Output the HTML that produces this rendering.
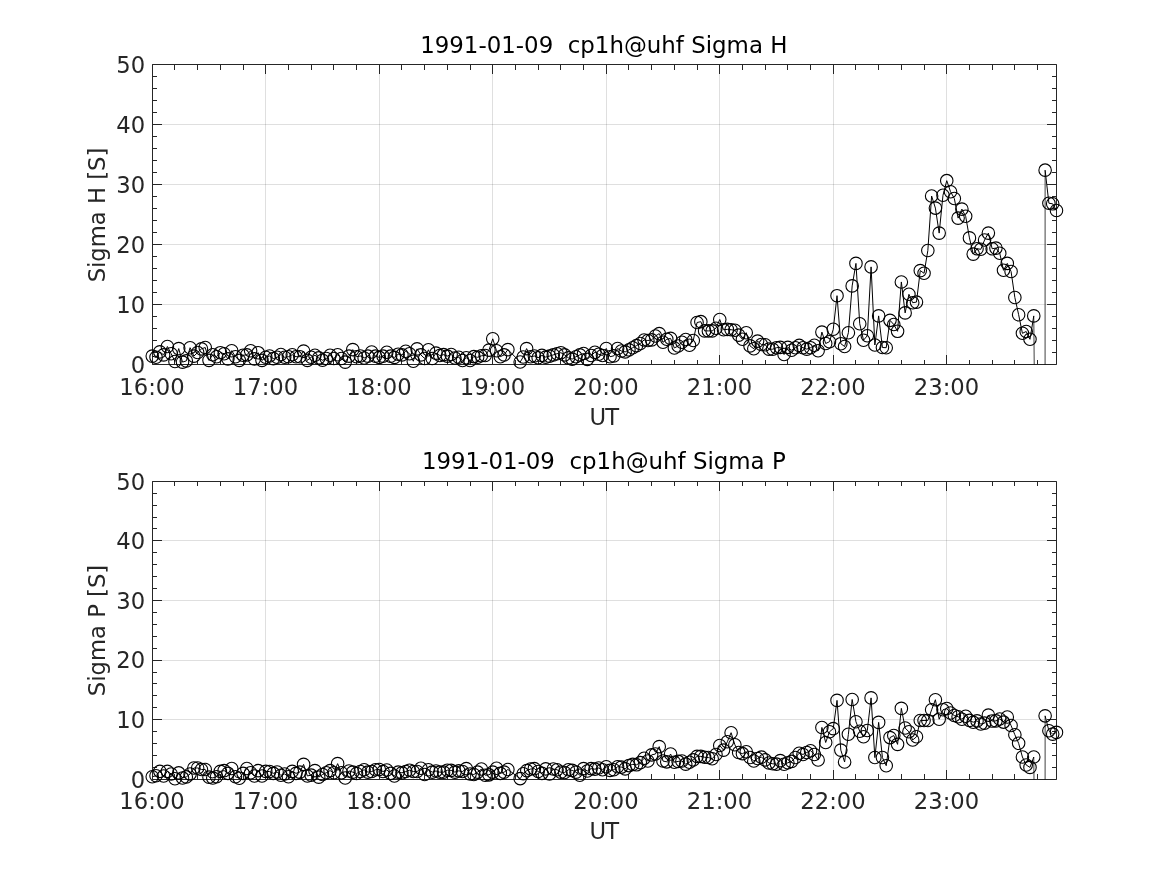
<!DOCTYPE html>
<html><head><meta charset="utf-8"><title>Sigma H / Sigma P</title>
<style>
html,body{margin:0;padding:0;background:#fff;}
svg{display:block;}
text{font-family:"DejaVu Sans","Liberation Sans",sans-serif;}
.tk{font-size:22.7px;fill:#262626;}
.lb{font-size:22.7px;fill:#262626;}
.tt{font-size:22.9px;fill:#000;white-space:pre;}
.ln{fill:none;stroke:#000;stroke-width:1.0;stroke-linejoin:miter;}
.mk circle{fill:none;stroke:#000;stroke-width:1.1;}
</style></head><body>
<svg width="1167" height="875" viewBox="0 0 1167 875">
<rect width="1167" height="875" fill="#fff"/>
<clipPath id="c0"><rect x="152.5" y="64.5" width="904.0" height="300.0"/></clipPath>
<path d="M265.5 64.5V364.5M379.5 64.5V364.5M492.5 64.5V364.5M606.5 64.5V364.5M719.5 64.5V364.5M833.5 64.5V364.5M946.5 64.5V364.5" stroke="#262626" stroke-opacity="0.15" stroke-width="1" fill="none"/>
<path d="M152.5 304.5H1056.5M152.5 244.5H1056.5M152.5 184.5H1056.5M152.5 124.5H1056.5" stroke="#262626" stroke-opacity="0.15" stroke-width="1" fill="none"/>
<path d="M152.5 64.5H1056.5V364.5H152.5ZM152.5 364.5v-9.5M152.5 64.5v9.5M174.5 364.5v-4.5M174.5 64.5v5.5M197.5 364.5v-4.5M197.5 64.5v5.5M220.5 364.5v-4.5M220.5 64.5v5.5M243.5 364.5v-4.5M243.5 64.5v5.5M265.5 364.5v-9.5M265.5 64.5v9.5M288.5 364.5v-4.5M288.5 64.5v5.5M311.5 364.5v-4.5M311.5 64.5v5.5M333.5 364.5v-4.5M333.5 64.5v5.5M356.5 364.5v-4.5M356.5 64.5v5.5M379.5 364.5v-9.5M379.5 64.5v9.5M401.5 364.5v-4.5M401.5 64.5v5.5M424.5 364.5v-4.5M424.5 64.5v5.5M447.5 364.5v-4.5M447.5 64.5v5.5M470.5 364.5v-4.5M470.5 64.5v5.5M492.5 364.5v-9.5M492.5 64.5v9.5M515.5 364.5v-4.5M515.5 64.5v5.5M538.5 364.5v-4.5M538.5 64.5v5.5M560.5 364.5v-4.5M560.5 64.5v5.5M583.5 364.5v-4.5M583.5 64.5v5.5M606.5 364.5v-9.5M606.5 64.5v9.5M628.5 364.5v-4.5M628.5 64.5v5.5M651.5 364.5v-4.5M651.5 64.5v5.5M674.5 364.5v-4.5M674.5 64.5v5.5M697.5 364.5v-4.5M697.5 64.5v5.5M719.5 364.5v-9.5M719.5 64.5v9.5M742.5 364.5v-4.5M742.5 64.5v5.5M765.5 364.5v-4.5M765.5 64.5v5.5M787.5 364.5v-4.5M787.5 64.5v5.5M810.5 364.5v-4.5M810.5 64.5v5.5M833.5 364.5v-9.5M833.5 64.5v9.5M855.5 364.5v-4.5M855.5 64.5v5.5M878.5 364.5v-4.5M878.5 64.5v5.5M901.5 364.5v-4.5M901.5 64.5v5.5M924.5 364.5v-4.5M924.5 64.5v5.5M946.5 364.5v-9.5M946.5 64.5v9.5M969.5 364.5v-4.5M969.5 64.5v5.5M992.5 364.5v-4.5M992.5 64.5v5.5M1014.5 364.5v-4.5M1014.5 64.5v5.5M1037.5 364.5v-4.5M1037.5 64.5v5.5M152.5 364.5h9.5M1056.5 364.5h-9.5M152.5 352.5h4.5M1056.5 352.5h-4.5M152.5 340.5h4.5M1056.5 340.5h-4.5M152.5 328.5h4.5M1056.5 328.5h-4.5M152.5 316.5h4.5M1056.5 316.5h-4.5M152.5 304.5h9.5M1056.5 304.5h-9.5M152.5 292.5h4.5M1056.5 292.5h-4.5M152.5 280.5h4.5M1056.5 280.5h-4.5M152.5 268.5h4.5M1056.5 268.5h-4.5M152.5 256.5h4.5M1056.5 256.5h-4.5M152.5 244.5h9.5M1056.5 244.5h-9.5M152.5 232.5h4.5M1056.5 232.5h-4.5M152.5 220.5h4.5M1056.5 220.5h-4.5M152.5 208.5h4.5M1056.5 208.5h-4.5M152.5 196.5h4.5M1056.5 196.5h-4.5M152.5 184.5h9.5M1056.5 184.5h-9.5M152.5 172.5h4.5M1056.5 172.5h-4.5M152.5 160.5h4.5M1056.5 160.5h-4.5M152.5 148.5h4.5M1056.5 148.5h-4.5M152.5 136.5h4.5M1056.5 136.5h-4.5M152.5 124.5h9.5M1056.5 124.5h-9.5M152.5 112.5h4.5M1056.5 112.5h-4.5M152.5 100.5h4.5M1056.5 100.5h-4.5M152.5 88.5h4.5M1056.5 88.5h-4.5M152.5 76.5h4.5M1056.5 76.5h-4.5M152.5 64.5h9.5M1056.5 64.5h-9.5" stroke="#262626" stroke-width="1" fill="none"/>
<g clip-path="url(#c0)"><path class="ln" d="M152.25 356.10L156.03 357.30L159.82 351.90L163.60 354.90L167.38 346.50L171.17 353.70L174.95 361.50L178.73 348.60L182.52 362.10L186.30 360.90L190.08 347.70L193.87 356.10L197.65 352.50L201.43 348.90L205.22 347.52L209.00 360.36L212.78 354.72L216.57 356.70L220.35 352.68L224.13 353.70L227.92 358.86L231.70 350.70L235.48 356.70L239.27 360.36L243.05 355.20L246.83 354.90L250.62 350.70L254.40 358.86L258.18 352.68L261.97 360.36L265.75 357.30L269.53 355.98L273.32 358.62L277.10 357.30L280.88 354.48L284.67 357.30L288.45 356.70L292.23 354.72L296.02 356.70L299.80 356.70L303.58 351.12L307.37 360.36L311.15 357.30L314.93 355.26L318.72 357.90L322.50 360.30L326.28 358.50L330.07 355.26L333.85 358.50L337.63 354.72L341.42 358.50L345.20 362.10L348.98 356.10L352.77 349.62L356.55 356.70L360.33 355.98L364.12 358.02L367.90 356.10L371.68 351.96L375.47 356.10L379.25 357.42L383.03 356.10L386.82 352.32L390.60 356.10L394.38 357.42L398.17 354.18L401.95 354.90L405.73 351.30L409.52 353.70L413.30 361.26L417.08 348.90L420.87 354.90L424.65 358.50L428.43 349.80L432.22 358.50L436.00 353.10L439.78 355.50L443.57 354.66L447.35 356.10L451.13 354.48L454.92 358.02L458.70 357.30L462.48 360.48L466.27 357.72L470.05 360.48L473.83 356.58L477.62 357.30L481.40 355.80L485.18 355.50L488.97 350.10L492.75 338.82L496.53 350.70L500.32 356.70L504.10 354.90L507.88 349.62L520.18 362.04L523.21 356.94L526.61 348.60L530.58 356.70L534.37 355.98L538.15 357.72L541.93 355.38L545.72 357.12L549.50 356.10L553.28 354.90L557.07 353.70L560.85 352.68L564.63 354.90L568.42 357.90L572.20 359.10L575.98 356.70L579.77 354.90L583.55 353.46L587.33 359.34L591.12 355.50L594.90 352.32L598.68 354.30L602.47 355.50L606.25 348.48L610.03 356.70L613.82 355.86L617.60 348.48L621.38 351.00L625.17 351.90L628.95 349.86L632.73 347.70L636.52 345.60L640.30 343.50L644.08 339.96L647.87 340.50L651.65 339.90L655.43 336.00L659.22 333.60L663.00 342.30L666.78 339.30L670.57 338.40L674.35 347.94L678.13 346.02L681.92 342.30L685.70 339.54L689.48 345.30L693.27 340.50L697.05 322.50L700.83 321.66L704.62 330.90L708.40 330.90L712.18 330.90L715.97 328.20L719.75 319.50L723.53 329.70L727.32 329.40L731.10 329.70L734.88 330.30L738.67 335.10L742.45 339.30L746.23 332.70L750.02 345.90L753.80 348.72L757.58 341.10L761.37 344.52L765.15 344.70L768.93 349.14L772.72 349.20L776.50 347.70L780.28 347.34L784.07 354.54L787.85 347.34L791.63 350.28L795.42 347.70L799.20 345.36L802.98 347.70L806.77 349.14L810.55 347.70L814.33 345.30L818.12 350.70L821.90 332.10L825.68 343.50L829.47 341.70L833.25 329.28L837.03 295.68L840.82 343.68L844.60 346.50L848.38 332.70L852.17 285.90L855.95 263.40L859.73 323.70L863.52 340.20L867.30 335.70L871.08 266.88L874.87 345.00L878.65 315.90L882.43 347.52L886.22 347.70L890.00 320.34L893.78 324.48L897.57 331.32L901.35 281.94L905.13 312.90L908.92 294.30L912.70 302.70L916.48 302.10L920.27 270.60L924.05 273.30L927.83 250.50L931.62 196.02L935.40 208.08L939.18 233.10L942.97 195.30L946.75 180.66L950.53 191.70L954.32 198.48L958.10 218.10L961.88 209.10L965.67 216.30L969.45 237.90L973.23 254.10L977.02 248.70L980.80 249.30L984.58 240.00L988.37 233.10L992.15 248.70L995.93 248.10L999.72 253.20L1003.50 270.30L1007.28 263.40L1011.07 271.50L1014.85 297.48L1018.63 314.70L1022.42 333.30L1026.20 331.50L1029.98 339.30L1033.77 315.90"/><path class="ln" stroke-opacity="0.75" d="M1033.77 315.90L1037.55 724.50L1041.33 18364.50L1045.12 170.16"/><path class="ln" d="M1045.12 170.16L1048.90 203.22L1052.68 203.82L1056.47 210.54"/></g>
<g class="mk"><circle cx="152.25" cy="356.10" r="6.25"/><circle cx="156.03" cy="357.30" r="6.25"/><circle cx="159.82" cy="351.90" r="6.25"/><circle cx="163.60" cy="354.90" r="6.25"/><circle cx="167.38" cy="346.50" r="6.25"/><circle cx="171.17" cy="353.70" r="6.25"/><circle cx="174.95" cy="361.50" r="6.25"/><circle cx="178.73" cy="348.60" r="6.25"/><circle cx="182.52" cy="362.10" r="6.25"/><circle cx="186.30" cy="360.90" r="6.25"/><circle cx="190.08" cy="347.70" r="6.25"/><circle cx="193.87" cy="356.10" r="6.25"/><circle cx="197.65" cy="352.50" r="6.25"/><circle cx="201.43" cy="348.90" r="6.25"/><circle cx="205.22" cy="347.52" r="6.25"/><circle cx="209.00" cy="360.36" r="6.25"/><circle cx="212.78" cy="354.72" r="6.25"/><circle cx="216.57" cy="356.70" r="6.25"/><circle cx="220.35" cy="352.68" r="6.25"/><circle cx="224.13" cy="353.70" r="6.25"/><circle cx="227.92" cy="358.86" r="6.25"/><circle cx="231.70" cy="350.70" r="6.25"/><circle cx="235.48" cy="356.70" r="6.25"/><circle cx="239.27" cy="360.36" r="6.25"/><circle cx="243.05" cy="355.20" r="6.25"/><circle cx="246.83" cy="354.90" r="6.25"/><circle cx="250.62" cy="350.70" r="6.25"/><circle cx="254.40" cy="358.86" r="6.25"/><circle cx="258.18" cy="352.68" r="6.25"/><circle cx="261.97" cy="360.36" r="6.25"/><circle cx="265.75" cy="357.30" r="6.25"/><circle cx="269.53" cy="355.98" r="6.25"/><circle cx="273.32" cy="358.62" r="6.25"/><circle cx="277.10" cy="357.30" r="6.25"/><circle cx="280.88" cy="354.48" r="6.25"/><circle cx="284.67" cy="357.30" r="6.25"/><circle cx="288.45" cy="356.70" r="6.25"/><circle cx="292.23" cy="354.72" r="6.25"/><circle cx="296.02" cy="356.70" r="6.25"/><circle cx="299.80" cy="356.70" r="6.25"/><circle cx="303.58" cy="351.12" r="6.25"/><circle cx="307.37" cy="360.36" r="6.25"/><circle cx="311.15" cy="357.30" r="6.25"/><circle cx="314.93" cy="355.26" r="6.25"/><circle cx="318.72" cy="357.90" r="6.25"/><circle cx="322.50" cy="360.30" r="6.25"/><circle cx="326.28" cy="358.50" r="6.25"/><circle cx="330.07" cy="355.26" r="6.25"/><circle cx="333.85" cy="358.50" r="6.25"/><circle cx="337.63" cy="354.72" r="6.25"/><circle cx="341.42" cy="358.50" r="6.25"/><circle cx="345.20" cy="362.10" r="6.25"/><circle cx="348.98" cy="356.10" r="6.25"/><circle cx="352.77" cy="349.62" r="6.25"/><circle cx="356.55" cy="356.70" r="6.25"/><circle cx="360.33" cy="355.98" r="6.25"/><circle cx="364.12" cy="358.02" r="6.25"/><circle cx="367.90" cy="356.10" r="6.25"/><circle cx="371.68" cy="351.96" r="6.25"/><circle cx="375.47" cy="356.10" r="6.25"/><circle cx="379.25" cy="357.42" r="6.25"/><circle cx="383.03" cy="356.10" r="6.25"/><circle cx="386.82" cy="352.32" r="6.25"/><circle cx="390.60" cy="356.10" r="6.25"/><circle cx="394.38" cy="357.42" r="6.25"/><circle cx="398.17" cy="354.18" r="6.25"/><circle cx="401.95" cy="354.90" r="6.25"/><circle cx="405.73" cy="351.30" r="6.25"/><circle cx="409.52" cy="353.70" r="6.25"/><circle cx="413.30" cy="361.26" r="6.25"/><circle cx="417.08" cy="348.90" r="6.25"/><circle cx="420.87" cy="354.90" r="6.25"/><circle cx="424.65" cy="358.50" r="6.25"/><circle cx="428.43" cy="349.80" r="6.25"/><circle cx="432.22" cy="358.50" r="6.25"/><circle cx="436.00" cy="353.10" r="6.25"/><circle cx="439.78" cy="355.50" r="6.25"/><circle cx="443.57" cy="354.66" r="6.25"/><circle cx="447.35" cy="356.10" r="6.25"/><circle cx="451.13" cy="354.48" r="6.25"/><circle cx="454.92" cy="358.02" r="6.25"/><circle cx="458.70" cy="357.30" r="6.25"/><circle cx="462.48" cy="360.48" r="6.25"/><circle cx="466.27" cy="357.72" r="6.25"/><circle cx="470.05" cy="360.48" r="6.25"/><circle cx="473.83" cy="356.58" r="6.25"/><circle cx="477.62" cy="357.30" r="6.25"/><circle cx="481.40" cy="355.80" r="6.25"/><circle cx="485.18" cy="355.50" r="6.25"/><circle cx="488.97" cy="350.10" r="6.25"/><circle cx="492.75" cy="338.82" r="6.25"/><circle cx="496.53" cy="350.70" r="6.25"/><circle cx="500.32" cy="356.70" r="6.25"/><circle cx="504.10" cy="354.90" r="6.25"/><circle cx="507.88" cy="349.62" r="6.25"/><circle cx="520.18" cy="362.04" r="6.25"/><circle cx="523.21" cy="356.94" r="6.25"/><circle cx="526.61" cy="348.60" r="6.25"/><circle cx="530.58" cy="356.70" r="6.25"/><circle cx="534.37" cy="355.98" r="6.25"/><circle cx="538.15" cy="357.72" r="6.25"/><circle cx="541.93" cy="355.38" r="6.25"/><circle cx="545.72" cy="357.12" r="6.25"/><circle cx="549.50" cy="356.10" r="6.25"/><circle cx="553.28" cy="354.90" r="6.25"/><circle cx="557.07" cy="353.70" r="6.25"/><circle cx="560.85" cy="352.68" r="6.25"/><circle cx="564.63" cy="354.90" r="6.25"/><circle cx="568.42" cy="357.90" r="6.25"/><circle cx="572.20" cy="359.10" r="6.25"/><circle cx="575.98" cy="356.70" r="6.25"/><circle cx="579.77" cy="354.90" r="6.25"/><circle cx="583.55" cy="353.46" r="6.25"/><circle cx="587.33" cy="359.34" r="6.25"/><circle cx="591.12" cy="355.50" r="6.25"/><circle cx="594.90" cy="352.32" r="6.25"/><circle cx="598.68" cy="354.30" r="6.25"/><circle cx="602.47" cy="355.50" r="6.25"/><circle cx="606.25" cy="348.48" r="6.25"/><circle cx="610.03" cy="356.70" r="6.25"/><circle cx="613.82" cy="355.86" r="6.25"/><circle cx="617.60" cy="348.48" r="6.25"/><circle cx="621.38" cy="351.00" r="6.25"/><circle cx="625.17" cy="351.90" r="6.25"/><circle cx="628.95" cy="349.86" r="6.25"/><circle cx="632.73" cy="347.70" r="6.25"/><circle cx="636.52" cy="345.60" r="6.25"/><circle cx="640.30" cy="343.50" r="6.25"/><circle cx="644.08" cy="339.96" r="6.25"/><circle cx="647.87" cy="340.50" r="6.25"/><circle cx="651.65" cy="339.90" r="6.25"/><circle cx="655.43" cy="336.00" r="6.25"/><circle cx="659.22" cy="333.60" r="6.25"/><circle cx="663.00" cy="342.30" r="6.25"/><circle cx="666.78" cy="339.30" r="6.25"/><circle cx="670.57" cy="338.40" r="6.25"/><circle cx="674.35" cy="347.94" r="6.25"/><circle cx="678.13" cy="346.02" r="6.25"/><circle cx="681.92" cy="342.30" r="6.25"/><circle cx="685.70" cy="339.54" r="6.25"/><circle cx="689.48" cy="345.30" r="6.25"/><circle cx="693.27" cy="340.50" r="6.25"/><circle cx="697.05" cy="322.50" r="6.25"/><circle cx="700.83" cy="321.66" r="6.25"/><circle cx="704.62" cy="330.90" r="6.25"/><circle cx="708.40" cy="330.90" r="6.25"/><circle cx="712.18" cy="330.90" r="6.25"/><circle cx="715.97" cy="328.20" r="6.25"/><circle cx="719.75" cy="319.50" r="6.25"/><circle cx="723.53" cy="329.70" r="6.25"/><circle cx="727.32" cy="329.40" r="6.25"/><circle cx="731.10" cy="329.70" r="6.25"/><circle cx="734.88" cy="330.30" r="6.25"/><circle cx="738.67" cy="335.10" r="6.25"/><circle cx="742.45" cy="339.30" r="6.25"/><circle cx="746.23" cy="332.70" r="6.25"/><circle cx="750.02" cy="345.90" r="6.25"/><circle cx="753.80" cy="348.72" r="6.25"/><circle cx="757.58" cy="341.10" r="6.25"/><circle cx="761.37" cy="344.52" r="6.25"/><circle cx="765.15" cy="344.70" r="6.25"/><circle cx="768.93" cy="349.14" r="6.25"/><circle cx="772.72" cy="349.20" r="6.25"/><circle cx="776.50" cy="347.70" r="6.25"/><circle cx="780.28" cy="347.34" r="6.25"/><circle cx="784.07" cy="354.54" r="6.25"/><circle cx="787.85" cy="347.34" r="6.25"/><circle cx="791.63" cy="350.28" r="6.25"/><circle cx="795.42" cy="347.70" r="6.25"/><circle cx="799.20" cy="345.36" r="6.25"/><circle cx="802.98" cy="347.70" r="6.25"/><circle cx="806.77" cy="349.14" r="6.25"/><circle cx="810.55" cy="347.70" r="6.25"/><circle cx="814.33" cy="345.30" r="6.25"/><circle cx="818.12" cy="350.70" r="6.25"/><circle cx="821.90" cy="332.10" r="6.25"/><circle cx="825.68" cy="343.50" r="6.25"/><circle cx="829.47" cy="341.70" r="6.25"/><circle cx="833.25" cy="329.28" r="6.25"/><circle cx="837.03" cy="295.68" r="6.25"/><circle cx="840.82" cy="343.68" r="6.25"/><circle cx="844.60" cy="346.50" r="6.25"/><circle cx="848.38" cy="332.70" r="6.25"/><circle cx="852.17" cy="285.90" r="6.25"/><circle cx="855.95" cy="263.40" r="6.25"/><circle cx="859.73" cy="323.70" r="6.25"/><circle cx="863.52" cy="340.20" r="6.25"/><circle cx="867.30" cy="335.70" r="6.25"/><circle cx="871.08" cy="266.88" r="6.25"/><circle cx="874.87" cy="345.00" r="6.25"/><circle cx="878.65" cy="315.90" r="6.25"/><circle cx="882.43" cy="347.52" r="6.25"/><circle cx="886.22" cy="347.70" r="6.25"/><circle cx="890.00" cy="320.34" r="6.25"/><circle cx="893.78" cy="324.48" r="6.25"/><circle cx="897.57" cy="331.32" r="6.25"/><circle cx="901.35" cy="281.94" r="6.25"/><circle cx="905.13" cy="312.90" r="6.25"/><circle cx="908.92" cy="294.30" r="6.25"/><circle cx="912.70" cy="302.70" r="6.25"/><circle cx="916.48" cy="302.10" r="6.25"/><circle cx="920.27" cy="270.60" r="6.25"/><circle cx="924.05" cy="273.30" r="6.25"/><circle cx="927.83" cy="250.50" r="6.25"/><circle cx="931.62" cy="196.02" r="6.25"/><circle cx="935.40" cy="208.08" r="6.25"/><circle cx="939.18" cy="233.10" r="6.25"/><circle cx="942.97" cy="195.30" r="6.25"/><circle cx="946.75" cy="180.66" r="6.25"/><circle cx="950.53" cy="191.70" r="6.25"/><circle cx="954.32" cy="198.48" r="6.25"/><circle cx="958.10" cy="218.10" r="6.25"/><circle cx="961.88" cy="209.10" r="6.25"/><circle cx="965.67" cy="216.30" r="6.25"/><circle cx="969.45" cy="237.90" r="6.25"/><circle cx="973.23" cy="254.10" r="6.25"/><circle cx="977.02" cy="248.70" r="6.25"/><circle cx="980.80" cy="249.30" r="6.25"/><circle cx="984.58" cy="240.00" r="6.25"/><circle cx="988.37" cy="233.10" r="6.25"/><circle cx="992.15" cy="248.70" r="6.25"/><circle cx="995.93" cy="248.10" r="6.25"/><circle cx="999.72" cy="253.20" r="6.25"/><circle cx="1003.50" cy="270.30" r="6.25"/><circle cx="1007.28" cy="263.40" r="6.25"/><circle cx="1011.07" cy="271.50" r="6.25"/><circle cx="1014.85" cy="297.48" r="6.25"/><circle cx="1018.63" cy="314.70" r="6.25"/><circle cx="1022.42" cy="333.30" r="6.25"/><circle cx="1026.20" cy="331.50" r="6.25"/><circle cx="1029.98" cy="339.30" r="6.25"/><circle cx="1033.77" cy="315.90" r="6.25"/><circle cx="1045.12" cy="170.16" r="6.25"/><circle cx="1048.90" cy="203.22" r="6.25"/><circle cx="1052.68" cy="203.82" r="6.25"/><circle cx="1056.47" cy="210.54" r="6.25"/></g>
<text class="tk" x="152.0" y="395.0" text-anchor="middle">16:00</text>
<text class="tk" x="265.5" y="395.0" text-anchor="middle">17:00</text>
<text class="tk" x="379.0" y="395.0" text-anchor="middle">18:00</text>
<text class="tk" x="492.5" y="395.0" text-anchor="middle">19:00</text>
<text class="tk" x="606.0" y="395.0" text-anchor="middle">20:00</text>
<text class="tk" x="719.5" y="395.0" text-anchor="middle">21:00</text>
<text class="tk" x="833.0" y="395.0" text-anchor="middle">22:00</text>
<text class="tk" x="946.5" y="395.0" text-anchor="middle">23:00</text>
<text class="tk" x="145.2" y="372.5" text-anchor="end">0</text>
<text class="tk" x="145.2" y="312.5" text-anchor="end">10</text>
<text class="tk" x="145.2" y="252.5" text-anchor="end">20</text>
<text class="tk" x="145.2" y="192.5" text-anchor="end">30</text>
<text class="tk" x="145.2" y="132.5" text-anchor="end">40</text>
<text class="tk" x="145.2" y="72.5" text-anchor="end">50</text>
<text class="lb" x="604.0" y="424.5" text-anchor="middle" letter-spacing="-0.8">UT</text>
<text class="lb" transform="translate(105 215.0) rotate(-90)" text-anchor="middle">Sigma H [S]</text>
<text class="tt" x="603.8" y="52.5" text-anchor="middle" xml:space="preserve">1991-01-09  cp1h@uhf Sigma H</text>
<clipPath id="c1"><rect x="152.5" y="481.5" width="904.0" height="298.0"/></clipPath>
<path d="M265.5 481.5V779.5M379.5 481.5V779.5M492.5 481.5V779.5M606.5 481.5V779.5M719.5 481.5V779.5M833.5 481.5V779.5M946.5 481.5V779.5" stroke="#262626" stroke-opacity="0.15" stroke-width="1" fill="none"/>
<path d="M152.5 719.5H1056.5M152.5 660.5H1056.5M152.5 600.5H1056.5M152.5 540.5H1056.5" stroke="#262626" stroke-opacity="0.15" stroke-width="1" fill="none"/>
<path d="M152.5 481.5H1056.5V779.5H152.5ZM152.5 779.5v-9.5M152.5 481.5v9.5M174.5 779.5v-5.5M174.5 481.5v4.5M197.5 779.5v-5.5M197.5 481.5v4.5M220.5 779.5v-5.5M220.5 481.5v4.5M243.5 779.5v-5.5M243.5 481.5v4.5M265.5 779.5v-9.5M265.5 481.5v9.5M288.5 779.5v-5.5M288.5 481.5v4.5M311.5 779.5v-5.5M311.5 481.5v4.5M333.5 779.5v-5.5M333.5 481.5v4.5M356.5 779.5v-5.5M356.5 481.5v4.5M379.5 779.5v-9.5M379.5 481.5v9.5M401.5 779.5v-5.5M401.5 481.5v4.5M424.5 779.5v-5.5M424.5 481.5v4.5M447.5 779.5v-5.5M447.5 481.5v4.5M470.5 779.5v-5.5M470.5 481.5v4.5M492.5 779.5v-9.5M492.5 481.5v9.5M515.5 779.5v-5.5M515.5 481.5v4.5M538.5 779.5v-5.5M538.5 481.5v4.5M560.5 779.5v-5.5M560.5 481.5v4.5M583.5 779.5v-5.5M583.5 481.5v4.5M606.5 779.5v-9.5M606.5 481.5v9.5M628.5 779.5v-5.5M628.5 481.5v4.5M651.5 779.5v-5.5M651.5 481.5v4.5M674.5 779.5v-5.5M674.5 481.5v4.5M697.5 779.5v-5.5M697.5 481.5v4.5M719.5 779.5v-9.5M719.5 481.5v9.5M742.5 779.5v-5.5M742.5 481.5v4.5M765.5 779.5v-5.5M765.5 481.5v4.5M787.5 779.5v-5.5M787.5 481.5v4.5M810.5 779.5v-5.5M810.5 481.5v4.5M833.5 779.5v-9.5M833.5 481.5v9.5M855.5 779.5v-5.5M855.5 481.5v4.5M878.5 779.5v-5.5M878.5 481.5v4.5M901.5 779.5v-5.5M901.5 481.5v4.5M924.5 779.5v-5.5M924.5 481.5v4.5M946.5 779.5v-9.5M946.5 481.5v9.5M969.5 779.5v-5.5M969.5 481.5v4.5M992.5 779.5v-5.5M992.5 481.5v4.5M1014.5 779.5v-5.5M1014.5 481.5v4.5M1037.5 779.5v-5.5M1037.5 481.5v4.5M152.5 779.5h9.5M1056.5 779.5h-9.5M152.5 767.5h4.5M1056.5 767.5h-4.5M152.5 755.5h4.5M1056.5 755.5h-4.5M152.5 743.5h4.5M1056.5 743.5h-4.5M152.5 731.5h4.5M1056.5 731.5h-4.5M152.5 719.5h9.5M1056.5 719.5h-9.5M152.5 707.5h4.5M1056.5 707.5h-4.5M152.5 695.5h4.5M1056.5 695.5h-4.5M152.5 683.5h4.5M1056.5 683.5h-4.5M152.5 672.5h4.5M1056.5 672.5h-4.5M152.5 660.5h9.5M1056.5 660.5h-9.5M152.5 648.5h4.5M1056.5 648.5h-4.5M152.5 636.5h4.5M1056.5 636.5h-4.5M152.5 624.5h4.5M1056.5 624.5h-4.5M152.5 612.5h4.5M1056.5 612.5h-4.5M152.5 600.5h9.5M1056.5 600.5h-9.5M152.5 588.5h4.5M1056.5 588.5h-4.5M152.5 576.5h4.5M1056.5 576.5h-4.5M152.5 564.5h4.5M1056.5 564.5h-4.5M152.5 552.5h4.5M1056.5 552.5h-4.5M152.5 540.5h9.5M1056.5 540.5h-9.5M152.5 528.5h4.5M1056.5 528.5h-4.5M152.5 517.5h4.5M1056.5 517.5h-4.5M152.5 505.5h4.5M1056.5 505.5h-4.5M152.5 493.5h4.5M1056.5 493.5h-4.5M152.5 481.5h9.5M1056.5 481.5h-9.5" stroke="#262626" stroke-width="1" fill="none"/>
<g clip-path="url(#c1)"><path class="ln" d="M152.25 776.74L156.03 775.72L159.82 771.37L163.60 775.96L167.38 771.37L171.17 773.94L174.95 778.70L178.73 772.92L182.52 777.93L186.30 776.92L190.08 773.94L193.87 767.98L197.65 767.98L201.43 769.47L205.22 769.47L209.00 777.15L212.78 777.93L216.57 776.74L220.35 771.37L224.13 770.60L227.92 773.34L231.70 768.57L235.48 776.74L239.27 778.29L243.05 773.34L246.83 768.57L250.62 772.74L254.40 775.96L258.18 770.60L261.97 775.96L265.75 771.37L269.53 771.55L273.32 773.34L277.10 772.03L280.88 775.25L284.67 773.94L288.45 776.74L292.23 771.37L296.02 773.34L299.80 772.15L303.58 764.40L307.37 775.96L311.15 775.13L314.93 770.60L318.72 777.15L322.50 774.53L326.28 772.74L330.07 770.60L333.85 772.74L337.63 763.63L341.42 772.74L345.20 777.93L348.98 770.96L352.77 772.15L356.55 773.46L360.33 771.55L364.12 769.76L367.90 772.15L371.68 771.55L375.47 769.76L379.25 769.47L383.03 771.55L386.82 769.94L390.60 773.34L394.38 775.96L398.17 772.15L401.95 772.86L405.73 771.55L409.52 770.18L413.30 771.55L417.08 771.55L420.87 768.27L424.65 774.53L428.43 769.76L432.22 772.15L436.00 770.96L439.78 772.15L443.57 772.15L447.35 770.18L451.13 770.36L454.92 772.15L458.70 770.84L462.48 771.55L466.27 768.63L470.05 773.94L473.83 774.53L477.62 772.15L481.40 769.05L485.18 775.19L488.97 774.83L492.75 772.15L496.53 768.27L500.32 773.34L504.10 772.15L507.88 769.47L520.18 778.58L523.21 773.70L526.80 770.60L530.58 769.05L534.37 768.63L538.15 771.55L541.93 773.34L545.72 768.87L549.50 774.06L553.28 769.05L557.07 769.76L560.85 772.15L564.63 772.45L568.42 769.76L572.20 770.36L575.98 772.15L579.77 775.19L583.55 768.63L587.33 770.96L591.12 768.63L594.90 769.17L598.68 767.98L602.47 769.76L606.25 766.78L610.03 770.36L613.82 769.76L617.60 766.78L621.38 767.08L625.17 768.87L628.95 765.59L632.73 764.40L636.52 764.82L640.30 762.61L644.08 758.32L647.87 761.06L651.65 754.86L655.43 754.03L659.22 746.64L663.00 761.06L666.78 761.84L670.57 754.03L674.35 762.19L678.13 761.42L681.92 761.06L685.70 764.16L689.48 762.19L693.27 759.87L697.05 756.35L700.83 756.35L704.62 757.25L708.40 757.55L712.18 758.74L715.97 754.45L719.75 745.51L723.53 750.10L727.32 741.75L731.10 732.69L734.88 744.73L738.67 752.48L742.45 753.67L746.23 751.71L750.02 757.55L753.80 761.06L757.58 758.44L761.37 757.13L765.15 759.87L768.93 762.97L772.72 763.80L776.50 764.16L780.28 760.65L784.07 764.28L787.85 762.79L791.63 761.42L795.42 757.55L799.20 753.20L802.98 754.45L806.77 752.48L810.55 750.69L814.33 754.45L818.12 760.05L821.90 727.45L825.68 742.47L829.47 731.80L833.25 728.64L837.03 700.39L840.82 750.10L844.60 762.02L848.38 734.30L852.17 699.44L855.95 721.73L859.73 731.20L863.52 736.81L867.30 730.55L871.08 697.89L874.87 757.55L878.65 722.38L882.43 757.55L886.22 765.71L890.00 737.58L893.78 735.55L897.57 744.37L901.35 708.38L905.13 728.04L908.92 731.80L912.70 739.96L916.48 736.81L920.27 720.47L924.05 720.47L927.83 720.47L931.62 709.81L935.40 699.73L939.18 719.22L942.97 709.81L946.75 708.55L950.53 712.97L954.32 715.53L958.10 716.72L961.88 719.22L965.67 716.30L969.45 720.42L973.23 722.20L977.02 720.89L980.80 724.05L984.58 723.16L988.37 715.11L992.15 721.07L995.93 720.89L999.72 718.98L1003.50 722.08L1007.28 716.96L1011.07 725.54L1014.85 734.72L1018.63 743.30L1022.42 757.01L1026.20 765.00L1029.98 767.38L1033.77 757.01"/><path class="ln" stroke-opacity="0.75" d="M1033.77 757.01L1037.55 1136.90L1041.33 18659.30L1045.12 715.83"/><path class="ln" d="M1045.12 715.83L1048.90 730.73L1052.68 734.12L1056.47 732.39"/></g>
<g class="mk"><circle cx="152.25" cy="776.74" r="6.25"/><circle cx="156.03" cy="775.72" r="6.25"/><circle cx="159.82" cy="771.37" r="6.25"/><circle cx="163.60" cy="775.96" r="6.25"/><circle cx="167.38" cy="771.37" r="6.25"/><circle cx="171.17" cy="773.94" r="6.25"/><circle cx="174.95" cy="778.70" r="6.25"/><circle cx="178.73" cy="772.92" r="6.25"/><circle cx="182.52" cy="777.93" r="6.25"/><circle cx="186.30" cy="776.92" r="6.25"/><circle cx="190.08" cy="773.94" r="6.25"/><circle cx="193.87" cy="767.98" r="6.25"/><circle cx="197.65" cy="767.98" r="6.25"/><circle cx="201.43" cy="769.47" r="6.25"/><circle cx="205.22" cy="769.47" r="6.25"/><circle cx="209.00" cy="777.15" r="6.25"/><circle cx="212.78" cy="777.93" r="6.25"/><circle cx="216.57" cy="776.74" r="6.25"/><circle cx="220.35" cy="771.37" r="6.25"/><circle cx="224.13" cy="770.60" r="6.25"/><circle cx="227.92" cy="773.34" r="6.25"/><circle cx="231.70" cy="768.57" r="6.25"/><circle cx="235.48" cy="776.74" r="6.25"/><circle cx="239.27" cy="778.29" r="6.25"/><circle cx="243.05" cy="773.34" r="6.25"/><circle cx="246.83" cy="768.57" r="6.25"/><circle cx="250.62" cy="772.74" r="6.25"/><circle cx="254.40" cy="775.96" r="6.25"/><circle cx="258.18" cy="770.60" r="6.25"/><circle cx="261.97" cy="775.96" r="6.25"/><circle cx="265.75" cy="771.37" r="6.25"/><circle cx="269.53" cy="771.55" r="6.25"/><circle cx="273.32" cy="773.34" r="6.25"/><circle cx="277.10" cy="772.03" r="6.25"/><circle cx="280.88" cy="775.25" r="6.25"/><circle cx="284.67" cy="773.94" r="6.25"/><circle cx="288.45" cy="776.74" r="6.25"/><circle cx="292.23" cy="771.37" r="6.25"/><circle cx="296.02" cy="773.34" r="6.25"/><circle cx="299.80" cy="772.15" r="6.25"/><circle cx="303.58" cy="764.40" r="6.25"/><circle cx="307.37" cy="775.96" r="6.25"/><circle cx="311.15" cy="775.13" r="6.25"/><circle cx="314.93" cy="770.60" r="6.25"/><circle cx="318.72" cy="777.15" r="6.25"/><circle cx="322.50" cy="774.53" r="6.25"/><circle cx="326.28" cy="772.74" r="6.25"/><circle cx="330.07" cy="770.60" r="6.25"/><circle cx="333.85" cy="772.74" r="6.25"/><circle cx="337.63" cy="763.63" r="6.25"/><circle cx="341.42" cy="772.74" r="6.25"/><circle cx="345.20" cy="777.93" r="6.25"/><circle cx="348.98" cy="770.96" r="6.25"/><circle cx="352.77" cy="772.15" r="6.25"/><circle cx="356.55" cy="773.46" r="6.25"/><circle cx="360.33" cy="771.55" r="6.25"/><circle cx="364.12" cy="769.76" r="6.25"/><circle cx="367.90" cy="772.15" r="6.25"/><circle cx="371.68" cy="771.55" r="6.25"/><circle cx="375.47" cy="769.76" r="6.25"/><circle cx="379.25" cy="769.47" r="6.25"/><circle cx="383.03" cy="771.55" r="6.25"/><circle cx="386.82" cy="769.94" r="6.25"/><circle cx="390.60" cy="773.34" r="6.25"/><circle cx="394.38" cy="775.96" r="6.25"/><circle cx="398.17" cy="772.15" r="6.25"/><circle cx="401.95" cy="772.86" r="6.25"/><circle cx="405.73" cy="771.55" r="6.25"/><circle cx="409.52" cy="770.18" r="6.25"/><circle cx="413.30" cy="771.55" r="6.25"/><circle cx="417.08" cy="771.55" r="6.25"/><circle cx="420.87" cy="768.27" r="6.25"/><circle cx="424.65" cy="774.53" r="6.25"/><circle cx="428.43" cy="769.76" r="6.25"/><circle cx="432.22" cy="772.15" r="6.25"/><circle cx="436.00" cy="770.96" r="6.25"/><circle cx="439.78" cy="772.15" r="6.25"/><circle cx="443.57" cy="772.15" r="6.25"/><circle cx="447.35" cy="770.18" r="6.25"/><circle cx="451.13" cy="770.36" r="6.25"/><circle cx="454.92" cy="772.15" r="6.25"/><circle cx="458.70" cy="770.84" r="6.25"/><circle cx="462.48" cy="771.55" r="6.25"/><circle cx="466.27" cy="768.63" r="6.25"/><circle cx="470.05" cy="773.94" r="6.25"/><circle cx="473.83" cy="774.53" r="6.25"/><circle cx="477.62" cy="772.15" r="6.25"/><circle cx="481.40" cy="769.05" r="6.25"/><circle cx="485.18" cy="775.19" r="6.25"/><circle cx="488.97" cy="774.83" r="6.25"/><circle cx="492.75" cy="772.15" r="6.25"/><circle cx="496.53" cy="768.27" r="6.25"/><circle cx="500.32" cy="773.34" r="6.25"/><circle cx="504.10" cy="772.15" r="6.25"/><circle cx="507.88" cy="769.47" r="6.25"/><circle cx="520.18" cy="778.58" r="6.25"/><circle cx="523.21" cy="773.70" r="6.25"/><circle cx="526.80" cy="770.60" r="6.25"/><circle cx="530.58" cy="769.05" r="6.25"/><circle cx="534.37" cy="768.63" r="6.25"/><circle cx="538.15" cy="771.55" r="6.25"/><circle cx="541.93" cy="773.34" r="6.25"/><circle cx="545.72" cy="768.87" r="6.25"/><circle cx="549.50" cy="774.06" r="6.25"/><circle cx="553.28" cy="769.05" r="6.25"/><circle cx="557.07" cy="769.76" r="6.25"/><circle cx="560.85" cy="772.15" r="6.25"/><circle cx="564.63" cy="772.45" r="6.25"/><circle cx="568.42" cy="769.76" r="6.25"/><circle cx="572.20" cy="770.36" r="6.25"/><circle cx="575.98" cy="772.15" r="6.25"/><circle cx="579.77" cy="775.19" r="6.25"/><circle cx="583.55" cy="768.63" r="6.25"/><circle cx="587.33" cy="770.96" r="6.25"/><circle cx="591.12" cy="768.63" r="6.25"/><circle cx="594.90" cy="769.17" r="6.25"/><circle cx="598.68" cy="767.98" r="6.25"/><circle cx="602.47" cy="769.76" r="6.25"/><circle cx="606.25" cy="766.78" r="6.25"/><circle cx="610.03" cy="770.36" r="6.25"/><circle cx="613.82" cy="769.76" r="6.25"/><circle cx="617.60" cy="766.78" r="6.25"/><circle cx="621.38" cy="767.08" r="6.25"/><circle cx="625.17" cy="768.87" r="6.25"/><circle cx="628.95" cy="765.59" r="6.25"/><circle cx="632.73" cy="764.40" r="6.25"/><circle cx="636.52" cy="764.82" r="6.25"/><circle cx="640.30" cy="762.61" r="6.25"/><circle cx="644.08" cy="758.32" r="6.25"/><circle cx="647.87" cy="761.06" r="6.25"/><circle cx="651.65" cy="754.86" r="6.25"/><circle cx="655.43" cy="754.03" r="6.25"/><circle cx="659.22" cy="746.64" r="6.25"/><circle cx="663.00" cy="761.06" r="6.25"/><circle cx="666.78" cy="761.84" r="6.25"/><circle cx="670.57" cy="754.03" r="6.25"/><circle cx="674.35" cy="762.19" r="6.25"/><circle cx="678.13" cy="761.42" r="6.25"/><circle cx="681.92" cy="761.06" r="6.25"/><circle cx="685.70" cy="764.16" r="6.25"/><circle cx="689.48" cy="762.19" r="6.25"/><circle cx="693.27" cy="759.87" r="6.25"/><circle cx="697.05" cy="756.35" r="6.25"/><circle cx="700.83" cy="756.35" r="6.25"/><circle cx="704.62" cy="757.25" r="6.25"/><circle cx="708.40" cy="757.55" r="6.25"/><circle cx="712.18" cy="758.74" r="6.25"/><circle cx="715.97" cy="754.45" r="6.25"/><circle cx="719.75" cy="745.51" r="6.25"/><circle cx="723.53" cy="750.10" r="6.25"/><circle cx="727.32" cy="741.75" r="6.25"/><circle cx="731.10" cy="732.69" r="6.25"/><circle cx="734.88" cy="744.73" r="6.25"/><circle cx="738.67" cy="752.48" r="6.25"/><circle cx="742.45" cy="753.67" r="6.25"/><circle cx="746.23" cy="751.71" r="6.25"/><circle cx="750.02" cy="757.55" r="6.25"/><circle cx="753.80" cy="761.06" r="6.25"/><circle cx="757.58" cy="758.44" r="6.25"/><circle cx="761.37" cy="757.13" r="6.25"/><circle cx="765.15" cy="759.87" r="6.25"/><circle cx="768.93" cy="762.97" r="6.25"/><circle cx="772.72" cy="763.80" r="6.25"/><circle cx="776.50" cy="764.16" r="6.25"/><circle cx="780.28" cy="760.65" r="6.25"/><circle cx="784.07" cy="764.28" r="6.25"/><circle cx="787.85" cy="762.79" r="6.25"/><circle cx="791.63" cy="761.42" r="6.25"/><circle cx="795.42" cy="757.55" r="6.25"/><circle cx="799.20" cy="753.20" r="6.25"/><circle cx="802.98" cy="754.45" r="6.25"/><circle cx="806.77" cy="752.48" r="6.25"/><circle cx="810.55" cy="750.69" r="6.25"/><circle cx="814.33" cy="754.45" r="6.25"/><circle cx="818.12" cy="760.05" r="6.25"/><circle cx="821.90" cy="727.45" r="6.25"/><circle cx="825.68" cy="742.47" r="6.25"/><circle cx="829.47" cy="731.80" r="6.25"/><circle cx="833.25" cy="728.64" r="6.25"/><circle cx="837.03" cy="700.39" r="6.25"/><circle cx="840.82" cy="750.10" r="6.25"/><circle cx="844.60" cy="762.02" r="6.25"/><circle cx="848.38" cy="734.30" r="6.25"/><circle cx="852.17" cy="699.44" r="6.25"/><circle cx="855.95" cy="721.73" r="6.25"/><circle cx="859.73" cy="731.20" r="6.25"/><circle cx="863.52" cy="736.81" r="6.25"/><circle cx="867.30" cy="730.55" r="6.25"/><circle cx="871.08" cy="697.89" r="6.25"/><circle cx="874.87" cy="757.55" r="6.25"/><circle cx="878.65" cy="722.38" r="6.25"/><circle cx="882.43" cy="757.55" r="6.25"/><circle cx="886.22" cy="765.71" r="6.25"/><circle cx="890.00" cy="737.58" r="6.25"/><circle cx="893.78" cy="735.55" r="6.25"/><circle cx="897.57" cy="744.37" r="6.25"/><circle cx="901.35" cy="708.38" r="6.25"/><circle cx="905.13" cy="728.04" r="6.25"/><circle cx="908.92" cy="731.80" r="6.25"/><circle cx="912.70" cy="739.96" r="6.25"/><circle cx="916.48" cy="736.81" r="6.25"/><circle cx="920.27" cy="720.47" r="6.25"/><circle cx="924.05" cy="720.47" r="6.25"/><circle cx="927.83" cy="720.47" r="6.25"/><circle cx="931.62" cy="709.81" r="6.25"/><circle cx="935.40" cy="699.73" r="6.25"/><circle cx="939.18" cy="719.22" r="6.25"/><circle cx="942.97" cy="709.81" r="6.25"/><circle cx="946.75" cy="708.55" r="6.25"/><circle cx="950.53" cy="712.97" r="6.25"/><circle cx="954.32" cy="715.53" r="6.25"/><circle cx="958.10" cy="716.72" r="6.25"/><circle cx="961.88" cy="719.22" r="6.25"/><circle cx="965.67" cy="716.30" r="6.25"/><circle cx="969.45" cy="720.42" r="6.25"/><circle cx="973.23" cy="722.20" r="6.25"/><circle cx="977.02" cy="720.89" r="6.25"/><circle cx="980.80" cy="724.05" r="6.25"/><circle cx="984.58" cy="723.16" r="6.25"/><circle cx="988.37" cy="715.11" r="6.25"/><circle cx="992.15" cy="721.07" r="6.25"/><circle cx="995.93" cy="720.89" r="6.25"/><circle cx="999.72" cy="718.98" r="6.25"/><circle cx="1003.50" cy="722.08" r="6.25"/><circle cx="1007.28" cy="716.96" r="6.25"/><circle cx="1011.07" cy="725.54" r="6.25"/><circle cx="1014.85" cy="734.72" r="6.25"/><circle cx="1018.63" cy="743.30" r="6.25"/><circle cx="1022.42" cy="757.01" r="6.25"/><circle cx="1026.20" cy="765.00" r="6.25"/><circle cx="1029.98" cy="767.38" r="6.25"/><circle cx="1033.77" cy="757.01" r="6.25"/><circle cx="1045.12" cy="715.83" r="6.25"/><circle cx="1048.90" cy="730.73" r="6.25"/><circle cx="1052.68" cy="734.12" r="6.25"/><circle cx="1056.47" cy="732.39" r="6.25"/></g>
<text class="tk" x="152.0" y="809.0" text-anchor="middle">16:00</text>
<text class="tk" x="265.5" y="809.0" text-anchor="middle">17:00</text>
<text class="tk" x="379.0" y="809.0" text-anchor="middle">18:00</text>
<text class="tk" x="492.5" y="809.0" text-anchor="middle">19:00</text>
<text class="tk" x="606.0" y="809.0" text-anchor="middle">20:00</text>
<text class="tk" x="719.5" y="809.0" text-anchor="middle">21:00</text>
<text class="tk" x="833.0" y="809.0" text-anchor="middle">22:00</text>
<text class="tk" x="946.5" y="809.0" text-anchor="middle">23:00</text>
<text class="tk" x="145.2" y="787.5" text-anchor="end">0</text>
<text class="tk" x="145.2" y="727.9" text-anchor="end">10</text>
<text class="tk" x="145.2" y="668.3" text-anchor="end">20</text>
<text class="tk" x="145.2" y="608.7" text-anchor="end">30</text>
<text class="tk" x="145.2" y="549.1" text-anchor="end">40</text>
<text class="tk" x="145.2" y="489.5" text-anchor="end">50</text>
<text class="lb" x="604.0" y="838.5" text-anchor="middle" letter-spacing="-0.8">UT</text>
<text class="lb" transform="translate(105 630.5) rotate(-90)" text-anchor="middle">Sigma P [S]</text>
<text class="tt" x="603.8" y="468.5" text-anchor="middle" xml:space="preserve">1991-01-09  cp1h@uhf Sigma P</text>
</svg></body></html>
